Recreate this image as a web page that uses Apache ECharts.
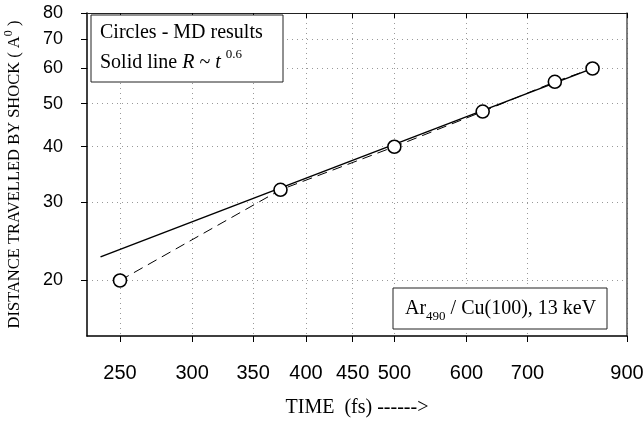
<!DOCTYPE html>
<html>
<head>
<meta charset="utf-8">
<script src="https://cdn.jsdelivr.net/npm/echarts@6/dist/echarts.min.js"></script>
<style>
  html, body { margin: 0; padding: 0; background: #fff; }
  #chart { width: 644px; height: 424px; }
</style>
</head>
<body>
<div id="chart"></div>
<script>
// MD results (circles)
const timeFs = [250, 375, 500, 625, 750, 825];
const distance = [20, 32, 40, 48, 56, 60];
// fitted power law R ~ t^0.6 (solid line)
const fitTime = [238, 828];
const fitDist = [22.6, 60.2];
// tick labels
const xTicks = [250, 300, 350, 400, 450, 500, 600, 700, 900];
const yTicks = [20, 30, 40, 50, 60, 70, 80];

const serif = "Liberation Serif";
const sans = "Liberation Sans";

const chart = echarts.init(document.getElementById("chart"));

const option = {
  animation: false,
  backgroundColor: "#fff",
  grid: { left: 87, right: 17, top: 13, bottom: 88, outerBoundsMode: "none", containLabel: false },
  xAxis: [
    {
      type: "log",
      min: 230,
      max: 900,
      name: "TIME  (fs) ------>",
      nameLocation: "middle",
      nameGap: 62,
      nameTextStyle: { fontFamily: serif, fontSize: 20, color: "#000" },
      axisLine: { show: true, lineStyle: { color: "#000", width: 1.5 } },
      axisTick: { show: true, inside: false, length: 6, customValues: xTicks, lineStyle: { color: "#000" } },
      axisLabel: {
        customValues: xTicks,
        margin: 27,
        fontFamily: sans,
        fontSize: 20,
        color: "#000",
        formatter: (v) => String(Math.round(v)),
      },
      splitLine: { show: true, lineStyle: { color: "#999", type: [1, 4], width: 1 } },
    },
    {
      type: "log",
      min: 230,
      max: 900,
      position: "top",
      axisLine: { show: true, onZero: false, lineStyle: { color: "#222", width: 1.2 } },
      axisTick: { show: true, inside: true, length: 5, customValues: xTicks, lineStyle: { color: "#000" } },
      axisLabel: { show: false },
      splitLine: { show: false },
    },
  ],
  yAxis: [
    {
      type: "log",
      min: 15,
      max: 80,
      name: "DISTANCE TRAVELLED BY SHOCK ( A{sup|0} )",
      nameLocation: "middle",
      nameRotate: 90,
      nameGap: 60,
      nameTextStyle: {
        fontFamily: serif,
        fontSize: 16.5,
        color: "#000",
        lineHeight: 24,
        rich: { sup: { fontFamily: serif, fontSize: 12, color: "#000", lineHeight: 13, verticalAlign: "top" } },
      },
      axisLine: { show: true, lineStyle: { color: "#000", width: 1.5 } },
      axisTick: { show: true, inside: false, length: 6, customValues: yTicks, lineStyle: { color: "#000" } },
      axisLabel: {
        customValues: yTicks,
        margin: 24,
        fontFamily: sans,
        fontSize: 18,
        color: "#000",
        formatter: (v) => String(Math.round(v)),
      },
      splitLine: { show: true, lineStyle: { color: "#999", type: [1, 4], width: 1 } },
    },
    {
      type: "log",
      min: 15,
      max: 80,
      position: "right",
      axisLine: { show: true, onZero: false, lineStyle: { color: "#555", width: 1.5 } },
      axisTick: { show: false },
      axisLabel: { show: false },
      splitLine: { show: false },
    },
  ],
  series: [
    {
      name: "Solid line",
      type: "line",
      data: fitTime.map((t, i) => [t, fitDist[i]]),
      symbol: "none",
      lineStyle: { color: "#000", width: 1.5 },
      z: 2,
    },
    {
      name: "MD results",
      type: "line",
      data: timeFs.map((t, i) => [t, distance[i]]),
      symbol: "circle",
      symbolSize: 13,
      itemStyle: { color: "#fff", borderColor: "#000", borderWidth: 1.6 },
      lineStyle: { color: "#000", width: 1, type: [10, 6] },
      z: 3,
    },
  ],
  graphic: [
    {
      type: "rect",
      shape: { x: 91, y: 15, width: 192, height: 67 },
      style: { fill: "#fff", stroke: "#222", lineWidth: 1 },
      z: 10,
    },
    {
      type: "text",
      x: 100,
      y: 33,
      style: {
        text: "Circles - MD results",
        fontFamily: serif,
        fontSize: 20,
        fill: "#000",
        verticalAlign: "middle",
      },
      z: 11,
    },
    {
      type: "text",
      x: 100,
      y: 63,
      style: {
        text: "Solid line {i|R} ~ {i|t} {sup|0.6}",
        fontFamily: serif,
        fontSize: 20,
        fill: "#000",
        lineHeight: 30,
        verticalAlign: "middle",
        rich: {
          i: { fontFamily: serif, fontSize: 20, fontStyle: "italic", fill: "#000", lineHeight: 30 },
          sup: { fontFamily: serif, fontSize: 13, fill: "#000", lineHeight: 14, verticalAlign: "top" },
        },
      },
      z: 11,
    },
    {
      type: "rect",
      shape: { x: 393, y: 288, width: 214, height: 41 },
      style: { fill: "#fff", stroke: "#222", lineWidth: 1 },
      z: 10,
    },
    {
      type: "text",
      x: 405,
      y: 309,
      style: {
        text: "Ar{sub|490} / Cu(100), 13 keV",
        fontFamily: serif,
        fontSize: 20,
        fill: "#000",
        lineHeight: 28,
        verticalAlign: "middle",
        rich: {
          sub: { fontFamily: serif, fontSize: 13, fill: "#000", lineHeight: 14, verticalAlign: "bottom" },
        },
      },
      z: 11,
    },
  ],
};

chart.setOption(option);
</script>
</body>
</html>
